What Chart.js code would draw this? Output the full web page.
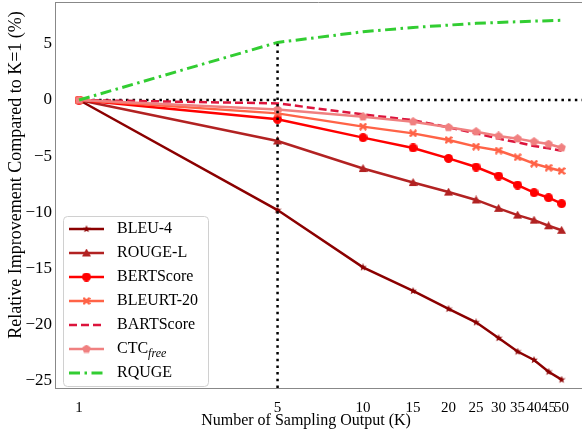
<!DOCTYPE html>
<html>
<head>
    <title>Relative improvement vs number of sampling outputs</title>
    <script src="https://cdn.jsdelivr.net/npm/chart.js"></script>
    <style>
        html, body { margin: 0; padding: 0; background: #fff; }
        .chart-container { width: 582px; height: 432px; position: relative; }
    </style>
</head>
<body>
    <div class="chart-container">
        <canvas id="improvementChart" width="582" height="432"></canvas>
    </div>

    <script>
        // data
        const kValues = [1, 5, 10, 15, 20, 25, 30, 35, 40, 45, 50];
        const xTickValues = [1, 5, 10, 15, 20, 25, 30, 35, 40, 45, 50];
        const yTickValues = [-25, -20, -15, -10, -5, 0, 5];

        const bleu4Values     = [0, -9.8, -14.9, -17.0, -18.6, -19.8, -21.2, -22.4, -23.15, -24.2, -24.9];
        const rougeLValues    = [0, -3.65, -6.1, -7.35, -8.2, -8.9, -9.65, -10.25, -10.7, -11.2, -11.6];
        const bertScoreValues = [0, -1.72, -3.35, -4.27, -5.2, -5.97, -6.77, -7.57, -8.25, -8.7, -9.23];
        const bleurtValues    = [0, -1.19, -2.37, -2.97, -3.56, -4.15, -4.5, -5.1, -5.67, -6.03, -6.32];
        const bartScoreValues = [0, -0.3, -1.28, -1.8, -2.43, -2.97, -3.44, -3.77, -4.1, -4.3, -4.52];
        const ctcFreeValues   = [0, -0.85, -1.49, -1.93, -2.43, -2.82, -3.2, -3.44, -3.71, -3.92, -4.25];
        const rqugeValues     = [0, 5.13, 6.08, 6.46, 6.67, 6.83, 6.91, 6.97, 7.03, 7.06, 7.1];

        const FONT = "'Liberation Serif', 'Times New Roman', serif";

        // small filled marker images, roughly like the matplotlib ones
        function makeMarker(shape, color, size) {
            const c = document.createElement('canvas');
            c.width = size;
            c.height = size;
            const g = c.getContext('2d');
            const r = size / 2;
            g.translate(r, r);
            g.fillStyle = color;
            g.strokeStyle = color;
            g.beginPath();
            if (shape === 'star') {
                for (let i = 0; i < 10; i++) {
                    const rad = i % 2 === 0 ? r : r * 0.42;
                    const a = -Math.PI / 2 + i * Math.PI / 5;
                    g.lineTo(rad * Math.cos(a), rad * Math.sin(a));
                }
                g.closePath();
                g.fill();
            } else if (shape === 'pentagon') {
                for (let i = 0; i < 5; i++) {
                    const a = -Math.PI / 2 + i * 2 * Math.PI / 5;
                    g.lineTo(r * Math.cos(a), r * Math.sin(a));
                }
                g.closePath();
                g.fill();
            } else if (shape === 'triangle') {
                g.moveTo(0, -r);
                g.lineTo(-r, r * 0.75);
                g.lineTo(r, r * 0.75);
                g.closePath();
                g.fill();
            } else if (shape === 'circle') {
                g.arc(0, 0, r, 0, Math.PI * 2);
                g.fill();
            } else if (shape === 'x') {
                g.lineWidth = size * 0.3;
                const d = r * 0.8;
                g.moveTo(-d, -d); g.lineTo(d, d);
                g.moveTo(-d, d); g.lineTo(d, -d);
                g.stroke();
            }
            return c;
        }

        const series = [
            { label: 'BLEU-4',    values: bleu4Values,     color: '#8b0000', marker: makeMarker('star', '#8b0000', 8),      dash: [], width: 2.5 },
            { label: 'ROUGE-L',   values: rougeLValues,    color: '#b22222', marker: makeMarker('triangle', '#b22222', 9),  dash: [], width: 2.5 },
            { label: 'BERTScore', values: bertScoreValues, color: '#ff0000', marker: makeMarker('circle', '#ff0000', 9),    dash: [], width: 2.5 },
            { label: 'BLEURT-20', values: bleurtValues,    color: '#ff6347', marker: makeMarker('x', '#ff6347', 8),         dash: [], width: 2.5 },
            { label: 'BARTScore', values: bartScoreValues, color: '#dc143c', marker: null,                                  dash: [8, 4], width: 2.5 },
            { label: 'CTC',       sub: 'free', values: ctcFreeValues, color: '#f08080', marker: makeMarker('pentagon', '#f08080', 9), dash: [], width: 2.5 },
            { label: 'RQUGE',     values: rqugeValues,     color: '#32cd32', marker: null,                                  dash: [11, 4.5, 2.5, 4.5], width: 3 }
        ];

        const datasets = series.map((s, i) => ({
            label: s.label,
            data: kValues.map((k, j) => ({ x: k, y: s.values[j] })),
            borderColor: s.color,
            backgroundColor: s.color,
            borderWidth: s.width,
            borderDash: s.dash,
            pointStyle: s.marker || 'circle',
            pointRadius: s.marker ? 4 : 0,
            tension: 0,
            order: series.length - i + 2
        }));

        // dotted reference lines at y = 0 (under the series) and K = 5 (on top)
        datasets.push({
            label: 'zero',
            data: [{ x: 1, y: 0 }, { x: 59, y: 0 }],
            borderColor: '#000',
            borderWidth: 2.5,
            borderDash: [2.5, 4.2],
            pointRadius: 0,
            order: 50
        });
        datasets.push({
            label: 'k5',
            data: [{ x: 5, y: -25.65 }, { x: 5, y: rqugeValues[1] }],
            borderColor: '#000',
            borderWidth: 2.5,
            borderDash: [2.5, 4.2],
            pointRadius: 0,
            order: 0
        });

        const framePlugin = {
            id: 'frame',
            afterDraw(chart) {
                const ctx = chart.ctx;
                const area = chart.chartArea;
                ctx.save();
                // top spine
                ctx.strokeStyle = '#888';
                ctx.lineWidth = 1;
                ctx.beginPath();
                ctx.moveTo(area.left, area.top + 0.5);
                ctx.lineTo(area.right, area.top + 0.5);
                ctx.stroke();

                // axis titles
                ctx.fillStyle = '#000';
                ctx.font = '16px ' + FONT;
                ctx.textAlign = 'center';
                ctx.textBaseline = 'middle';
                ctx.fillText('Number of Sampling Output (K)', 306, 421);
                ctx.save();
                ctx.translate(16, 175);
                ctx.rotate(-Math.PI / 2);
                ctx.font = '18px ' + FONT;
                ctx.fillText('Relative Improvement Compared to K=1 (%)', 0, 0);
                ctx.restore();

                // legend box
                const bx = area.left + 8, by = area.bottom - 172, bw = 145, bh = 170;
                ctx.beginPath();
                ctx.roundRect(bx + 0.5, by + 0.5, bw, bh, 4);
                ctx.fillStyle = 'rgba(255,255,255,0.85)';
                ctx.fill();
                ctx.strokeStyle = '#d0d0d0';
                ctx.lineWidth = 1;
                ctx.stroke();

                series.forEach((s, i) => {
                    const y = by + 13 + i * 24;
                    ctx.strokeStyle = s.color;
                    ctx.lineWidth = s.width;
                    ctx.setLineDash(s.dash);
                    ctx.beginPath();
                    ctx.moveTo(bx + 6, y);
                    ctx.lineTo(bx + 41, y);
                    ctx.stroke();
                    ctx.setLineDash([]);
                    if (s.marker) {
                        ctx.drawImage(s.marker, bx + 23.5 - s.marker.width / 2, y - s.marker.height / 2);
                    }
                    ctx.fillStyle = '#000';
                    ctx.textAlign = 'left';
                    ctx.textBaseline = 'middle';
                    ctx.font = '16px ' + FONT;
                    ctx.fillText(s.label, bx + 54, y);
                    if (s.sub) {
                        const w = ctx.measureText(s.label).width;
                        ctx.font = 'italic 12px ' + FONT;
                        ctx.fillText(s.sub, bx + 54 + w, y + 5);
                    }
                });
                ctx.restore();
            }
        };

        new Chart(document.getElementById('improvementChart'), {
            type: 'line',
            data: { datasets: datasets },
            options: {
                responsive: false,
                animation: false,
                layout: { autoPadding: false, padding: { top: 2, right: 0, left: 0, bottom: 0 } },
                plugins: {
                    legend: { display: false },
                    tooltip: { enabled: false }
                },
                scales: {
                    x: {
                        type: 'logarithmic',
                        min: 0.823,
                        max: 59,
                        grid: { display: false, drawTicks: false },
                        border: { display: true, color: '#888', width: 1 },
                        afterBuildTicks: scale => {
                            scale.ticks = xTickValues.map(v => ({ value: v }));
                        },
                        afterFit: scale => {
                            scale.height = 44;
                            scale.paddingLeft = 0;
                            scale.paddingRight = 0;
                        },
                        ticks: {
                            autoSkip: false,
                            maxRotation: 0,
                            padding: 11,
                            color: '#000',
                            font: { family: FONT, size: 15 },
                            callback: v => String(v)
                        }
                    },
                    y: {
                        min: -25.65,
                        max: 8.73,
                        grid: { display: false, drawTicks: false },
                        border: { display: true, color: '#888', width: 1 },
                        afterBuildTicks: scale => {
                            scale.ticks = yTickValues.map(v => ({ value: v }));
                        },
                        afterFit: scale => {
                            scale.width = 55;
                            scale.paddingTop = 0;
                            scale.paddingBottom = 0;
                        },
                        ticks: {
                            padding: 3,
                            color: '#000',
                            font: { family: FONT, size: 17 },
                            callback: v => v < 0 ? '\u2212' + Math.abs(v) : String(v)
                        }
                    }
                }
            },
            plugins: [framePlugin]
        });
    </script>
</body>
</html>
